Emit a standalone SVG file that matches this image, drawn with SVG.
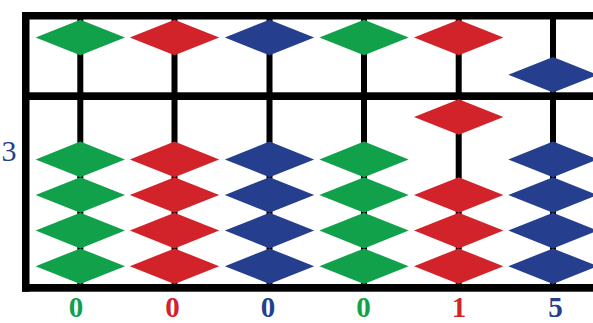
<svg xmlns="http://www.w3.org/2000/svg" xmlns:xlink="http://www.w3.org/1999/xlink" width="593" height="323" viewBox="0 0 593 323">
<style>
.g{fill:#12a14b}.r{fill:#d2232a}.b{fill:#253f8e}
.rod{fill:#000}
.bar{fill:#000}
.lbl{font-family:"Liberation Serif","Times New Roman",serif;font-size:29px;text-anchor:middle}
.num{font-weight:bold}
</style>
<defs>
<path id="bead" d="M-44.7,0 L0,-17.8 L44.7,0 L0,17.8 Z"/>
</defs>
<rect width="593" height="323" fill="#fff"/>
<g id="rods">
<rect class="rod" x="77.3" y="15" width="6" height="272"/>
<rect class="rod" x="171.5" y="15" width="6" height="272"/>
<rect class="rod" x="266.5" y="15" width="6" height="272"/>
<rect class="rod" x="361" y="15" width="6" height="272"/>
<rect class="rod" x="455.7" y="15" width="6" height="272"/>
<rect class="rod" x="550" y="15" width="6" height="272"/>
</g>
<g id="frame">
<rect class="bar" x="22" y="12" width="571" height="7.5"/>
<rect class="bar" x="22" y="92.3" width="571" height="7.7"/>
<rect class="bar" x="22" y="284" width="571" height="7.7"/>
<rect class="bar" x="22" y="12" width="7.5" height="279.7"/>
</g>
<g id="col1" class="g">
<use xlink:href="#bead" href="#bead" x="80.3" y="37.5"/>
<use xlink:href="#bead" href="#bead" x="80.3" y="159.4"/>
<use xlink:href="#bead" href="#bead" x="80.3" y="195"/>
<use xlink:href="#bead" href="#bead" x="80.3" y="230.6"/>
<use xlink:href="#bead" href="#bead" x="80.3" y="266.2"/>
</g>
<g id="col2" class="r">
<use xlink:href="#bead" href="#bead" x="174.5" y="37.5"/>
<use xlink:href="#bead" href="#bead" x="174.5" y="159.4"/>
<use xlink:href="#bead" href="#bead" x="174.5" y="195"/>
<use xlink:href="#bead" href="#bead" x="174.5" y="230.6"/>
<use xlink:href="#bead" href="#bead" x="174.5" y="266.2"/>
</g>
<g id="col3" class="b">
<use xlink:href="#bead" href="#bead" x="269.5" y="37.5"/>
<use xlink:href="#bead" href="#bead" x="269.5" y="159.4"/>
<use xlink:href="#bead" href="#bead" x="269.5" y="195"/>
<use xlink:href="#bead" href="#bead" x="269.5" y="230.6"/>
<use xlink:href="#bead" href="#bead" x="269.5" y="266.2"/>
</g>
<g id="col4" class="g">
<use xlink:href="#bead" href="#bead" x="364" y="37.5"/>
<use xlink:href="#bead" href="#bead" x="364" y="159.4"/>
<use xlink:href="#bead" href="#bead" x="364" y="195"/>
<use xlink:href="#bead" href="#bead" x="364" y="230.6"/>
<use xlink:href="#bead" href="#bead" x="364" y="266.2"/>
</g>
<g id="col5" class="r">
<use xlink:href="#bead" href="#bead" x="458.7" y="37.5"/>
<use xlink:href="#bead" href="#bead" x="458.7" y="117"/>
<use xlink:href="#bead" href="#bead" x="458.7" y="195"/>
<use xlink:href="#bead" href="#bead" x="458.7" y="230.6"/>
<use xlink:href="#bead" href="#bead" x="458.7" y="266.2"/>
</g>
<g id="col6" class="b">
<use xlink:href="#bead" href="#bead" x="553" y="74.8"/>
<use xlink:href="#bead" href="#bead" x="553" y="159.4"/>
<use xlink:href="#bead" href="#bead" x="553" y="195"/>
<use xlink:href="#bead" href="#bead" x="553" y="230.6"/>
<use xlink:href="#bead" href="#bead" x="553" y="266.2"/>
</g>
<g id="labels">
<text class="lbl b" x="9" y="161" style="font-size:30px">3</text>
<text class="lbl num g" x="76" y="316.5">0</text>
<text class="lbl num r" x="172.5" y="316.5">0</text>
<text class="lbl num b" x="268" y="316.5">0</text>
<text class="lbl num g" x="363.5" y="316.5">0</text>
<text class="lbl num r" x="459" y="316.5">1</text>
<text class="lbl num b" x="555.5" y="316.5">5</text>
</g>
</svg>
